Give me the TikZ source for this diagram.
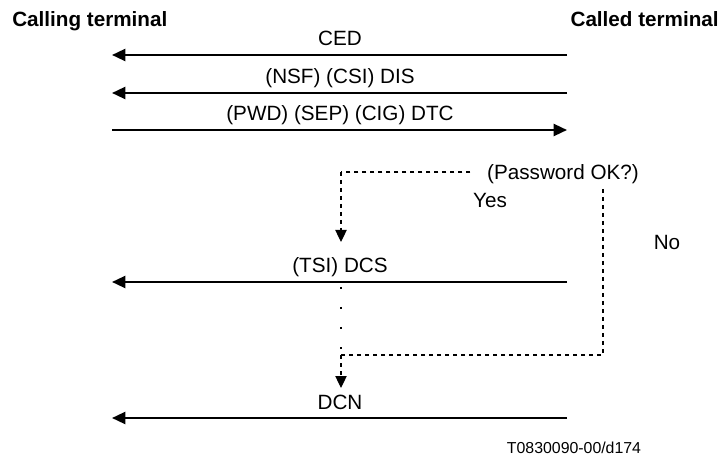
\documentclass[tikz,border=0pt]{standalone}
\usepackage{fontspec}
\setmainfont{Liberation Sans}
\usetikzlibrary{arrows.meta, positioning}

\begin{document}
\begin{tikzpicture}[
    x=0.75pt, y=-0.75pt,
    font=\fontsize{15.5}{18}\selectfont,
    head/.style={font=\fontsize{15.5}{18}\selectfont\bfseries, inner sep=0pt},
    msg/.style={line width=1.7pt, -{Triangle[length=10pt, width=9pt]}},
    lbl/.style={anchor=base, inner sep=0pt},
    ctrl/.style={line width=0.9pt, dash pattern=on 3pt off 3pt},
    ctrltip/.style={ctrl, -{Triangle[length=9pt, width=8.5pt]}},
    dots/.style={line width=1.3pt, dash pattern=on 1.5pt off 13.5pt},
]
\useasboundingbox (0,0) rectangle (724,459);

% the two terminals
\node[head, anchor=base west] (calling) at (12,27) {Calling terminal};
\node[head, anchor=base east] (called) at (719,27) {Called terminal};

% messages between the terminals
\foreach \i/\y/\s/\t/\txt in {%
    1/55/R/L/{CED},
    2/93/R/L/{(NSF) (CSI) DIS},
    3/130/L/R/{(PWD) (SEP) (CIG) DTC},
    4/282/R/L/{(TSI) DCS},
    5/418/R/L/{DCN}%
}{
    \coordinate (L\i) at (112,\y);
    \coordinate (R\i) at (567,\y);
    \draw[msg] (\s\i) -- (\t\i);
    \node[lbl] (m\i) at (340,\y-9) {\txt};
}

% password check
\node[anchor=base, inner xsep=12.5pt] (pwd) at (563,180) {(Password OK?)};
\node[lbl] (yes) at (490,208) {Yes};
\node[lbl] (no) at (667,250) {No};

\coordinate (yesturn) at (341,172);
\coordinate (yestip) at (341,242);
\draw[ctrl] (pwd.west |- yesturn) -- (yesturn);
\draw[ctrltip] (yesturn) -- (yestip);

\coordinate (nodown) at (603,355);
\coordinate (nojoin) at (341,355);
\coordinate (dcsgap) at (341,287);
\coordinate (dcntip) at (341,388);
\draw[ctrl] (pwd.south -| nodown) -- (nodown) -- (nojoin);
\draw[dots] (dcsgap) -- (nojoin);
\draw[ctrltip] (nojoin) -- (dcntip);

\node[lbl, font=\fontsize{11.9}{14}\selectfont] (fig) at (574,453) {T0830090-00/d174};

\end{tikzpicture}
\end{document}
